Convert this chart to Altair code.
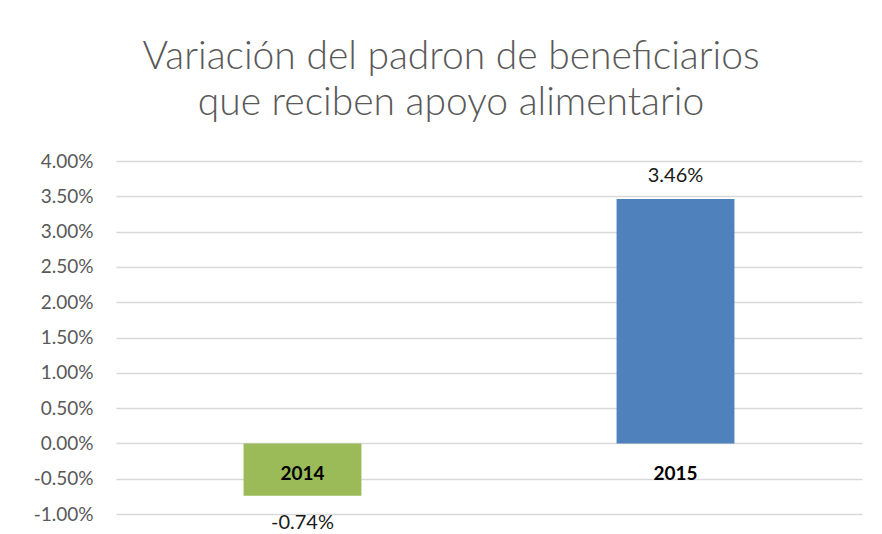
import altair as alt
import pandas as pd

years = ["2014", "2015"]
values = [-0.0074, 0.0346]
colors = ["#9BBB59", "#4F81BD"]
y_ticks = [-0.01, -0.005, 0.0, 0.005, 0.01, 0.015, 0.02, 0.025, 0.03, 0.035, 0.04]
title_lines = ["Variación del padron de beneficiarios", "que reciben apoyo alimentario"]

df = pd.DataFrame({"year": years, "value": values})

FONT = "Lato"

x = alt.X("year:N", sort=years, title=None,
          scale=alt.Scale(paddingInner=0.684, paddingOuter=0.342),
          axis=alt.Axis(orient="bottom", offset=-71, domain=False, ticks=False,
                        labelPadding=21, labelAngle=0, labelFont=FONT, zindex=2,
                        labelOverlap=False,
                        labelFontSize=19, labelFontWeight="bold", labelColor="#000000"))
y = alt.Y("value:Q", title=None,
          scale=alt.Scale(domain=[-0.01, 0.04], nice=False),
          axis=alt.Axis(values=y_ticks, tickCount=11, domain=False, ticks=False,
                        labelOverlap=False,
                        labelExpr="replace(format(datum.value, '.2%'), '\u2212', '-')",
                        labelPadding=23, labelFont=FONT, labelFontSize=19,
                        labelColor="#595959", grid=True, gridColor="#d9d9d9",
                        gridWidth=1.3))

base = alt.Chart(df).transform_calculate(
    lbl="replace(format(datum.value, '.2%'), '\u2212', '-')"
)

bars = base.mark_bar().encode(
    x=x, y=y,
    color=alt.Color("year:N", scale=alt.Scale(domain=years, range=colors), legend=None),
)

pos_labels = base.transform_filter("datum.value >= 0").mark_text(
    baseline="bottom", dy=-13, font=FONT, fontSize=20, color="#1a1a1a"
).encode(x=x, y=y, text="lbl:N")

neg_labels = base.transform_filter("datum.value < 0").mark_text(
    baseline="top", dy=17, font=FONT, fontSize=20, color="#1a1a1a"
).encode(x=x, y=y, text="lbl:N")

chart = alt.layer(bars, pos_labels, neg_labels).properties(
    width=746, height=353,
    title=alt.TitleParams(text=title_lines, font=FONT, fontSize=39, fontWeight=300,
                          color="#595959", lineHeight=46, anchor="middle", dx=-38,
                          offset=29),
    autosize=alt.AutoSizeParams(type="none"),
    padding={"left": 108, "top": 153, "right": 10, "bottom": 20},
).configure_view(stroke=None).configure_axis(labelFlush=False)

chart.save("out.html", embed_options={"renderer": "svg", "actions": False})
